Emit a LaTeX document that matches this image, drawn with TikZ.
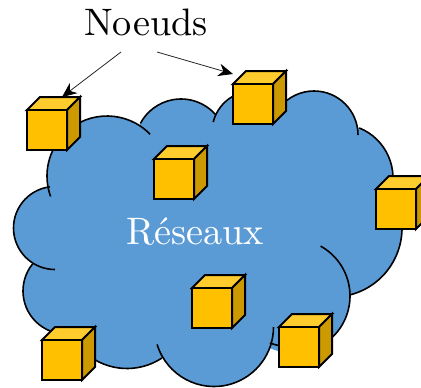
\documentclass[tikz,border=0pt]{standalone}
\usetikzlibrary{arrows.meta}
\definecolor{cloudblue}{HTML}{5B9BD5}
\definecolor{cubefront}{HTML}{FFC000}
\definecolor{cubetop}{HTML}{FFCC2E}
\definecolor{cubeside}{HTML}{CC9A00}
\newcommand{\lobefill}[3]{\fill[cloudblue] (#1,-#2) circle[radius=#3];}
\newcommand{\lobeline}[5]{\draw[cloudline] ({#1+#3*cos(#4)},{-#2+#3*sin(#4)}) arc[start angle=#4,end angle=#5,radius=#3];}
\newcommand{\netcube}[3]{%
  \draw[cubeline,fill=cubetop] (#2,-#3) -- ++(13,13) -- ++(40,0) -- ++(-13,-13) -- cycle;
  \draw[cubeline,fill=cubeside] (#2+40,-#3) -- ++(13,13) -- ++(0,-40) -- ++(-13,-13) -- cycle;
  \node[cubeface] (#1) at (#2+20,-#3-20) {};
}
\tikzset{
  x=0.75pt,y=0.75pt,
  cloudline/.style={line width=1.2pt,black},
  cubeline/.style={line width=1.5pt,black,line join=miter},
  cubeface/.style={draw=black,line width=1.5pt,fill=cubefront,minimum width=30pt,minimum height=30pt,inner sep=0pt,outer sep=0pt},
  pointer/.style={line width=0.6pt,black!85,-{Stealth[length=11pt,width=9.5pt,inset=3.5pt,color=black]}},
  biglabel/.style={scale=2.87,inner sep=0pt,anchor=base}
}
\begin{document}
\begin{tikzpicture}
\useasboundingbox (0,0) rectangle (421,-387);
\clip (0,0) rectangle (421,-387);
% cloud fill
\fill[cloudblue] (100,-150) -- (300,-130) -- (385,-200) -- (385,-250) -- (320,-320) -- (200,-350) -- (80,-320) -- (40,-250) -- cycle;
\lobefill{107}{176}{60}
\lobefill{181}{145}{46}
\lobefill{253}{132}{41}
\lobefill{314}{135}{44}
\lobefill{339}{178}{54}
\lobefill{333}{228}{69}
\lobefill{293}{296}{57}
\lobefill{214}{327}{59.5}
\lobefill{127}{305}{63.5}
\lobefill{66}{291}{43}
\lobefill{55}{228}{41.5}
% cloud outline
\lobeline{107}{176}{60}{44}{200}
\lobeline{181}{145}{46}{41}{152}
\lobeline{253}{132}{41}{60}{166}
\lobeline{314}{135}{44}{0}{140}
\lobeline{339}{178}{54}{-20}{68}
\lobeline{333}{228}{69}{-76}{10}
\lobeline{293}{296}{57}{-50}{61}
\lobeline{214}{327}{59.5}{-163}{0}
\lobeline{127}{305}{63.5}{-130}{-56.6}
\lobeline{66}{291}{43}{141}{280}
\lobeline{55}{228}{41.5}{97}{270}
\draw[cloudline] (270,-343) to[bend right=6] (282,-346);
% cubes
\netcube{c1}{27}{110}
\netcube{c2}{233}{84}
\netcube{c3}{154}{159}
\netcube{c4}{376}{189}
\netcube{c5}{192}{288}
\netcube{c6}{279}{327}
\netcube{c7}{42}{340}
% labels
\node[biglabel] (noeuds) at (146,-35) {Noeuds};
\node[biglabel,text=white] (reseaux) at (195,-244) {Réseaux};
% pointers
\coordinate (from1) at (121,-52);
\coordinate (from2) at (157,-52);
\coordinate (tip1) at (62,-97);
\coordinate (tip2) at (233,-74);
\draw[pointer] (from1) -- (tip1);
\draw[pointer] (from2) -- (tip2);
\end{tikzpicture}
\end{document}
